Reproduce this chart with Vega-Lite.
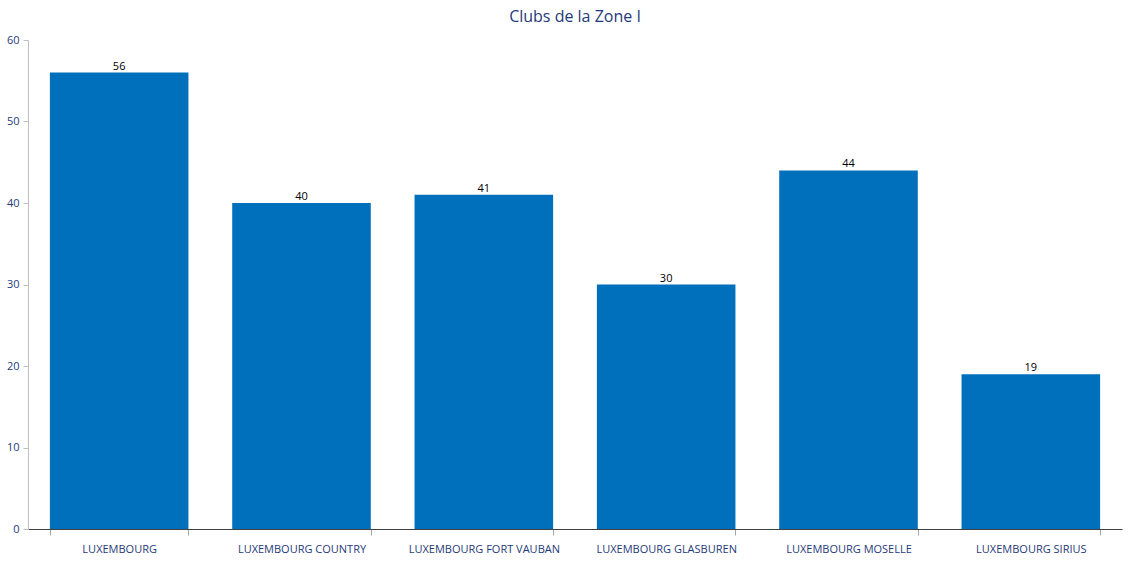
{
  "$schema": "https://vega.github.io/schema/vega-lite/v6.json",
  "width": 1094,
  "height": 489,
  "autosize": {"type": "none"},
  "padding": {"left": 28, "top": 40, "right": 12, "bottom": 35},
  "background": "white",
  "title": {
    "text": "Clubs de la Zone I",
    "font": "Open Sans",
    "fontSize": 16,
    "fontWeight": "normal",
    "color": "#1F3A7A",
    "anchor": "middle",
    "offset": 9
  },
  "data": {
    "values": [
      {"club": "LUXEMBOURG", "count": 56},
      {"club": "LUXEMBOURG COUNTRY", "count": 40},
      {"club": "LUXEMBOURG FORT VAUBAN", "count": 41},
      {"club": "LUXEMBOURG GLASBUREN", "count": 30},
      {"club": "LUXEMBOURG MOSELLE", "count": 44},
      {"club": "LUXEMBOURG SIRIUS", "count": 19}
    ]
  },
  "config": {
    "view": {"stroke": null},
    "axis": {"grid": false, "labelFont": "Open Sans", "labelFontSize": 11, "labelColor": "#1F3A7A", "title": null}
  },
  "encoding": {
    "x": {
      "field": "club",
      "type": "nominal",
      "sort": null,
      "scale": {"paddingInner": 0.24, "paddingOuter": 0.12},
      "axis": {
        "labelAngle": 0,
        "domainColor": "#404040",
        "tickColor": "#A6A6A6",
        "tickSize": 6,
        "tickBand": "extent",
        "labelPadding": 8,
        "title": null
      }
    },
    "y": {
      "field": "count",
      "type": "quantitative",
      "scale": {"domain": [0, 60], "nice": false},
      "axis": {
        "values": [0, 10, 20, 30, 40, 50, 60],
        "domainColor": "#BFBFBF",
        "tickColor": "#BFBFBF",
        "tickSize": 5,
        "labelPadding": 4,
        "title": null
      }
    }
  },
  "layer": [
    {"mark": {"type": "bar", "color": "#0070BC"}},
    {
      "mark": {"type": "text", "baseline": "bottom", "dy": -1, "font": "Open Sans", "fontSize": 11, "color": "#000000"},
      "encoding": {"text": {"field": "count", "type": "quantitative"}}
    }
  ]
}
